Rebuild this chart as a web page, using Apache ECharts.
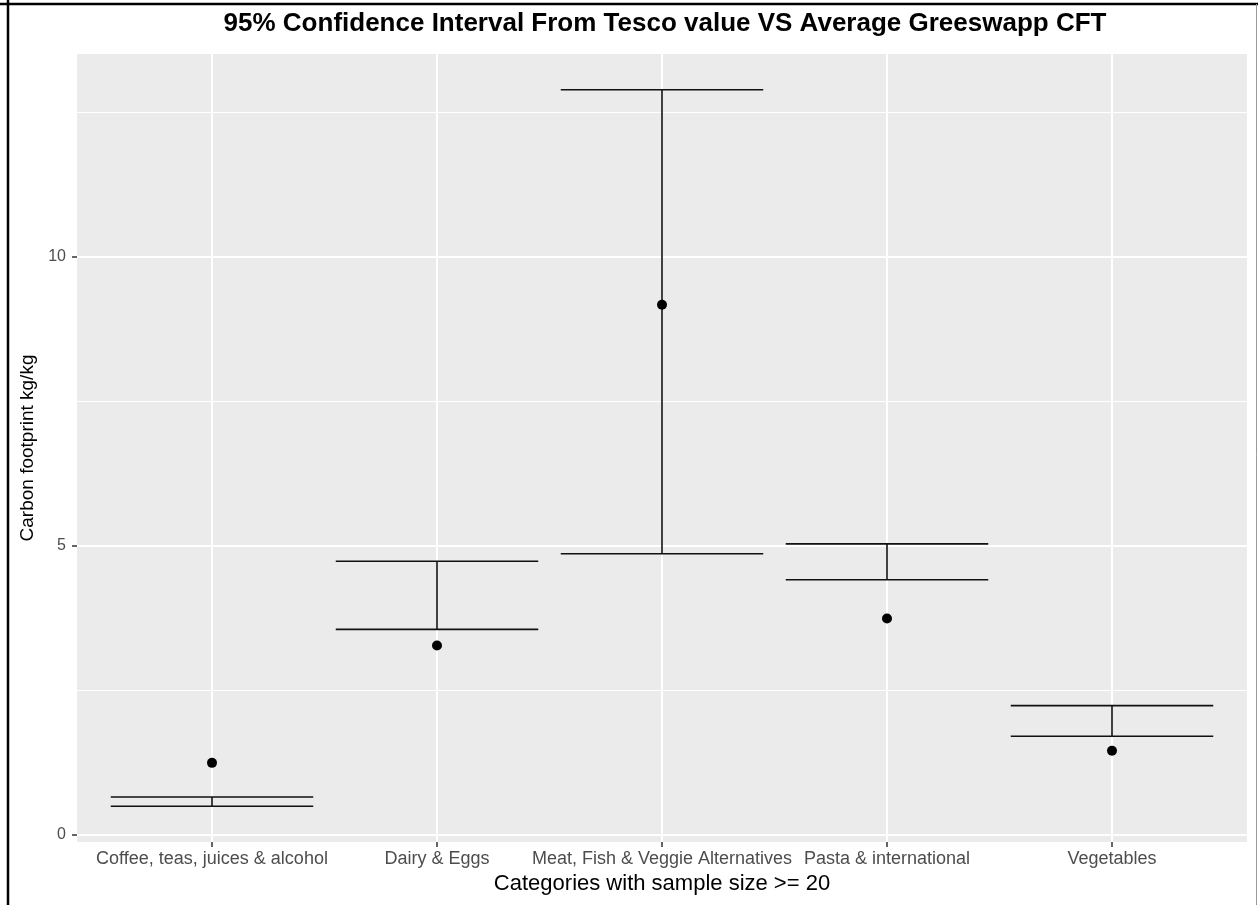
<!DOCTYPE html>
<html>
<head>
<meta charset="utf-8">
<script src="https://cdn.jsdelivr.net/npm/echarts@6/dist/echarts.min.js"></script>
<style>
html,body{margin:0;padding:0;background:#fff;}
#chart{width:1258px;height:905px;}
</style>
</head>
<body>
<div id="chart"></div>
<script>
const categories = ["Coffee, teas, juices & alcohol", "Dairy & Eggs", "Meat, Fish & Veggie Alternatives", "Pasta & international", "Vegetables"];
const lowerCI = [0.49, 3.55, 4.86, 4.41, 1.70];
const upperCI = [0.65, 4.73, 12.89, 5.03, 2.23];
const meanCFT = [1.24, 3.27, 9.17, 3.74, 1.45];
const yTicks = [0, 5, 10];
const yMinorLines = [2.5, 7.5, 12.5];

const chart = echarts.init(document.getElementById('chart'));
const FONT = 'Liberation Sans, Arial, sans-serif';

const catIdx = categories.map((c, i) => i);
const errData = categories.map((c, i) => [i, lowerCI[i], upperCI[i]]);
const ptData = categories.map((c, i) => [i, meanCFT[i]]);

const gridLines = [];
yTicks.forEach(v => gridLines.push({ yAxis: v, lineStyle: { width: 2 } }));
yMinorLines.forEach(v => gridLines.push({ yAxis: v, lineStyle: { width: 1.1 } }));
catIdx.forEach(i => gridLines.push({ xAxis: i, lineStyle: { width: 2 } }));

chart.setOption({
  backgroundColor: '#ffffff',
  animation: false,
  title: {
    text: '95% Confidence Interval From Tesco value VS Average Greeswapp CFT',
    left: 660, top: 6, textAlign: 'center',
    textStyle: { fontFamily: FONT, fontSize: 26, fontWeight: 'bold', color: '#000' }
  },
  grid: {
    left: 77, right: 11, top: 54, bottom: 63,
    show: true, backgroundColor: '#EBEBEB', borderWidth: 0
  },
  xAxis: {
    type: 'value',
    min: -0.6, max: 4.6,
    name: 'Categories with sample size >= 20',
    nameLocation: 'middle',
    nameGap: 30,
    nameTextStyle: { fontFamily: FONT, fontSize: 22, color: '#000' },
    axisLine: { show: true, onZero: false, lineStyle: { color: 'rgba(0,0,0,0)', width: 0 } },
    axisTick: { show: true, length: 5, customValues: catIdx, lineStyle: { color: '#333', width: 1.5 } },
    axisLabel: {
      fontFamily: FONT, fontSize: 18, color: '#4D4D4D', margin: 8,
      customValues: catIdx, hideOverlap: false,
      formatter: v => categories[Math.round(v)]
    },
    splitLine: { show: false }
  },
  yAxis: {
    type: 'value',
    min: -0.13, max: 13.51,
    name: 'Carbon footprint kg/kg',
    nameLocation: 'middle',
    nameGap: 32,
    nameTextStyle: { fontFamily: FONT, fontSize: 19, color: '#000' },
    axisLine: { show: true, onZero: false, lineStyle: { color: 'rgba(0,0,0,0)', width: 0 } },
    axisTick: { show: true, length: 5, customValues: yTicks, lineStyle: { color: '#333', width: 1.5 } },
    axisLabel: { fontFamily: FONT, fontSize: 16, color: '#4D4D4D', margin: 11, customValues: yTicks },
    splitLine: { show: false }
  },
  graphic: [
    { type: 'line', shape: { x1: 8, y1: 0, x2: 8, y2: 905 }, style: { stroke: '#000', lineWidth: 2.5 }, z: 100 },
    { type: 'line', shape: { x1: 0, y1: 4, x2: 1258, y2: 4 }, style: { stroke: '#000', lineWidth: 2.5 }, z: 100 },
    { type: 'line', shape: { x1: 1256.5, y1: 4, x2: 1256.5, y2: 905 }, style: { stroke: '#999', lineWidth: 1 }, z: 100 }
  ],
  series: [
    {
      type: 'scatter', data: [], z: 1, silent: true,
      markLine: {
        silent: true, z: 1, symbol: ['none', 'none'], label: { show: false },
        lineStyle: { color: '#ffffff', type: 'solid', opacity: 1 },
        emphasis: { disabled: true },
        data: gridLines
      }
    },
    {
      type: 'custom', z: 3, silent: true,
      data: errData,
      renderItem: function (params, api) {
        const x = api.value(0);
        const lo = api.coord([x, api.value(1)]);
        const hi = api.coord([x, api.value(2)]);
        const half = api.size([1, 0])[0] * 0.45;
        const st = { stroke: '#111', lineWidth: 1.6 };
        return {
          type: 'group',
          children: [
            { type: 'line', shape: { x1: lo[0], y1: lo[1], x2: hi[0], y2: hi[1] }, style: st },
            { type: 'line', shape: { x1: lo[0] - half, y1: lo[1], x2: lo[0] + half, y2: lo[1] }, style: st },
            { type: 'line', shape: { x1: hi[0] - half, y1: hi[1], x2: hi[0] + half, y2: hi[1] }, style: st }
          ]
        };
      }
    },
    {
      type: 'scatter', z: 4, silent: true,
      data: ptData,
      symbol: 'circle', symbolSize: 10,
      itemStyle: { color: '#000', opacity: 1 }
    }
  ]
});
</script>
</body>
</html>
